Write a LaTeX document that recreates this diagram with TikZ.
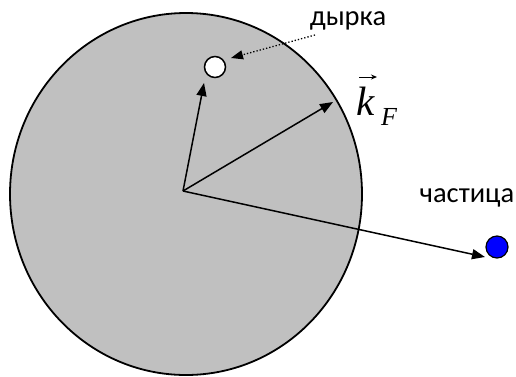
\documentclass[tikz,border=0pt]{standalone}
\usepackage{fontspec}
\setmainfont{Liberation Serif}
\newfontfamily\lblfont{Carlito}
\usetikzlibrary{arrows.meta}
\begin{document}
\begin{tikzpicture}[x=1pt,y=-1pt,
  vec/.style={line width=1.5pt,-{Triangle[length=13pt,width=10pt]}},
  lbl/.style={font=\lblfont\fontsize{28.5}{32}\selectfont,inner sep=0pt}]
\useasboundingbox (0,0) rectangle (516,376);
\draw[line width=1.8pt,fill={rgb,255:red,192;green,192;blue,192}] (186,194) ellipse [x radius=176,y radius=181];
\coordinate (o) at (183,191);
\node[circle,draw,line width=1.5pt,fill=white,minimum size=21pt,inner sep=0pt] (hole) at (215,67) {};
\node[circle,draw,line width=1.2pt,fill={rgb,255:red,0;green,0;blue,255},minimum size=22pt,inner sep=0pt] (part) at (497,247) {};
\coordinate (kf) at (333,102);
\draw[vec] (o) -- (204,83) coordinate (ht);
\draw[vec] (o) -- (kf);
\draw[vec] (o) -- (485,257) coordinate (pt);
\node[lbl] (dyr) at (348,21) {дырка};
\node[lbl] (chs) at (467,198) {частица};
\coordinate (ds) at (315,35);
\draw[line width=1.3pt,dotted,-{Triangle[length=12pt,width=9pt]}] (ds) -- (231,58);
\node[inner sep=0pt,anchor=base,font=\fontsize{41}{46}\selectfont\itshape] (k) at (366,115) {k};
\node[inner sep=0pt,anchor=base,font=\fontsize{26}{30}\selectfont\itshape] (F) at (389,125) {F};
\coordinate (va) at (359,77);
\coordinate (vb) at (377,77);
\draw[line width=1pt,-{Stealth[length=6pt,width=5pt]}] (va) -- (vb);
\end{tikzpicture}
\end{document}
